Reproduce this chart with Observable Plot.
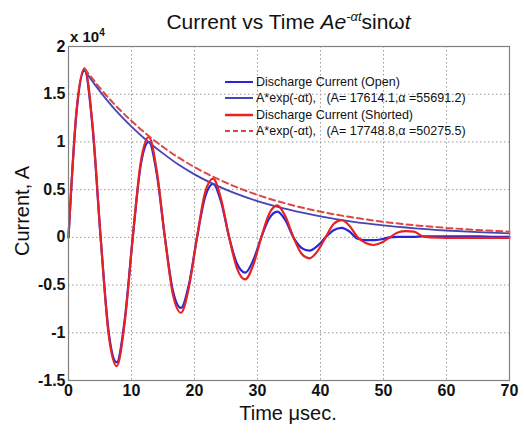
<!DOCTYPE html>
<html><head><meta charset="utf-8">
<script src="https://cdn.jsdelivr.net/npm/d3@7"></script>
<script src="https://cdn.jsdelivr.net/npm/@observablehq/plot@0.6"></script>
<style>
body{margin:0;background:#fff;font-family:"Liberation Sans",Arial,sans-serif;}
#wrap{position:relative;width:524px;height:438px;background:#fff;}
#title{position:absolute;top:9px;left:0;width:577px;text-align:center;font-size:21px;color:#111;white-space:nowrap;}
#title sup{font-size:13px;}
#expo{position:absolute;left:70px;top:27px;font-size:15px;font-weight:bold;color:#111;white-space:nowrap;}
#expo sup{font-size:10px;}
#legend{position:absolute;left:225px;top:74px;font-size:12.5px;color:#111;}
.row{display:flex;align-items:center;height:16.3px;white-space:nowrap;}
.row svg{margin-right:3px;}
#ylab{position:absolute;left:22px;top:211px;transform:translate(-50%,-50%) rotate(-90deg);font-size:20px;color:#111;white-space:nowrap;}
#xlab{position:absolute;left:288px;top:402px;transform:translateX(-50%);font-size:20px;color:#111;white-space:nowrap;}
</style></head>
<body>
<div id="wrap">
  <div id="chart"></div>
  <div id="title">Current vs Time <i>Ae</i><sup><i>-αt</i></sup>sinω<i>t</i></div>
  <div id="expo">x 10<sup>4</sup></div>
  <div id="ylab">Current, A</div>
  <div id="xlab">Time μsec.</div>
  <div id="legend"></div>
</div>
<script>
// Time (µs) and currents (in units of 10^4 A)
const dataTime = [0, 1.275, 2.55, 3.825, 5.1, 6.375, 7.65, 8.925, 10.2, 11.475, 12.75, 14.025, 15.3, 16.575, 17.85, 19.125, 20.4, 21.675, 22.95, 24.225, 25.5, 26.775, 28.05, 29.325, 30.6, 31.875, 33.15, 34.425, 35.7, 36.975, 38.25, 39.525, 40.8, 42.075, 43.35, 44.625, 45.9, 47.175, 48.45, 49.725, 51.0, 52.275, 53.55, 54.825, 56.1, 57.375, 60, 62.5, 65, 67.5, 70];
const openCurrent = [0, 1.31, 1.75, 1.15, 0, -0.99, -1.31, -0.86, 0, 0.76, 1.0, 0.66, 0, -0.56, -0.74, -0.49, 0, 0.42, 0.56, 0.37, 0, -0.28, -0.37, -0.24, 0, 0.2, 0.27, 0.18, 0, -0.11, -0.14, -0.09, 0, 0.075, 0.1, 0.06, -0.015, -0.03, -0.03, -0.02, 0, 0.005, 0.005, 0.005, 0.01, 0.01, 0.01, 0.01, 0.01, 0.005, 0.005];
const shortedCurrent = [0, 1.33, 1.77, 1.17, 0, -1.02, -1.35, -0.89, 0, 0.79, 1.05, 0.69, 0, -0.6, -0.79, -0.52, 0, 0.47, 0.615, 0.4, 0, -0.33, -0.44, -0.29, 0, 0.25, 0.335, 0.22, 0, -0.17, -0.22, -0.145, 0, 0.14, 0.18, 0.12, 0, -0.06, -0.08, -0.055, 0, 0.05, 0.065, 0.06, 0.015, 0, -0.005, -0.005, -0.005, -0.005, -0.005];
// Exponential envelope fits
const fitTime = [2.55, 5, 7.5, 10, 12.5, 15, 17.5, 20, 25, 30, 35, 40, 45, 50, 55, 60, 65, 70];
const fitOpen = [1.75, 1.53, 1.33, 1.16, 1.01, 0.88, 0.76, 0.66, 0.50, 0.38, 0.29, 0.22, 0.165, 0.125, 0.095, 0.072, 0.054, 0.041];
const fitShorted = [1.77, 1.565, 1.38, 1.22, 1.075, 0.947, 0.835, 0.736, 0.573, 0.445, 0.346, 0.269, 0.21, 0.163, 0.127, 0.099, 0.077, 0.06];
const xTicks = [0, 10, 20, 30, 40, 50, 60, 70];
const yTicks = [-1.5, -1, -0.5, 0, 0.5, 1, 1.5, 2];
const legendLabels = ["Discharge Current (Open)", "A*exp(-αt),   (A= 17614.1,α =55691.2)", "Discharge Current (Shorted)", "A*exp(-αt),   (A= 17748.8,α =50275.5)"];

const cOpen = "#2626dc", cOpenFit = "#4545b5", cShort = "#e62222", cShortFit = "#e04545";

const dataRows = dataTime.map((t, i) => ({t, open: openCurrent[i], shorted: shortedCurrent[i]}));
const fitRows = fitTime.map((t, i) => ({t, open: fitOpen[i], shorted: fitShorted[i]}));

const chart = Plot.plot({
  width: 524, height: 438,
  marginLeft: 68, marginRight: 15, marginTop: 46, marginBottom: 58,
  style: {fontFamily: '"Liberation Sans", Arial, sans-serif', background: "transparent"},
  x: {domain: [0, 70], ticks: xTicks, label: null},
  y: {domain: [-1.5, 2], ticks: yTicks, label: null},
  marks: [
    Plot.gridX(xTicks, {stroke: "#999", strokeOpacity: 1, strokeDasharray: "1.5,2.5"}),
    Plot.gridY(yTicks, {stroke: "#999", strokeOpacity: 1, strokeDasharray: "1.5,2.5"}),
    Plot.line(dataRows, {x: "t", y: "open", curve: "monotone-x", stroke: cOpen, strokeWidth: 2.2}),
    Plot.line(fitRows, {x: "t", y: "open", curve: "monotone-x", stroke: cOpenFit, strokeWidth: 1.8}),
    Plot.line(dataRows, {x: "t", y: "shorted", curve: "monotone-x", stroke: cShort, strokeWidth: 2.2}),
    Plot.line(fitRows, {x: "t", y: "shorted", curve: "monotone-x", stroke: cShortFit, strokeWidth: 2, strokeDasharray: "6,4"}),
    Plot.frame({stroke: "#808080", strokeWidth: 1.2}),
    Plot.axisX(xTicks, {anchor: "bottom", tickSize: 0, tickPadding: 4, fontSize: 16, fontWeight: "bold", fill: "#111", label: null}),
    Plot.axisY(yTicks, {anchor: "left", tickSize: 0, tickPadding: 3, fontSize: 16, fontWeight: "bold", fill: "#111", label: null, tickFormat: d => String(d)})
  ]
});
document.getElementById("chart").appendChild(chart);

const styles = [
  {c: cOpen, w: 2, dash: null},
  {c: cOpenFit, w: 2, dash: null},
  {c: cShort, w: 2.5, dash: null},
  {c: cShortFit, w: 2, dash: "5,3"}
];
const leg = document.getElementById("legend");
legendLabels.forEach((lab, i) => {
  const s = styles[i];
  const row = document.createElement("div");
  row.className = "row";
  row.innerHTML = `<svg width="28" height="8"><line x1="0" y1="4" x2="28" y2="4" stroke="${s.c}" stroke-width="${s.w}" ${s.dash ? `stroke-dasharray="${s.dash}"` : ""}/></svg><span>${lab.replace(/ {3}/g, "&nbsp;&nbsp;&nbsp;")}</span>`;
  leg.appendChild(row);
});
</script>
</body></html>
